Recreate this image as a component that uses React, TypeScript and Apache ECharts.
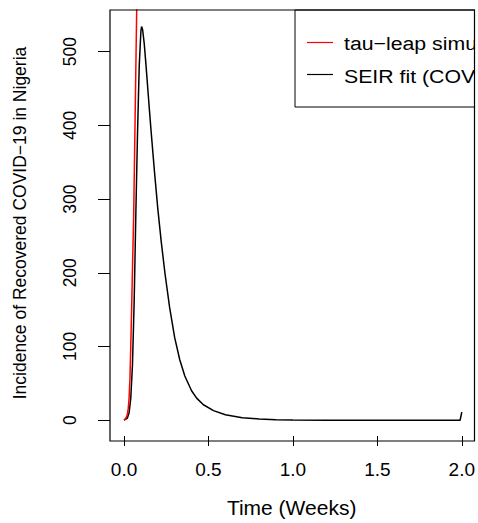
import React, { useEffect, useRef } from 'react';
import * as echarts from 'echarts';

// SEIR fit (black curve)
const seirTime = [0, 0.02, 0.03, 0.04, 0.05, 0.06, 0.07, 0.08, 0.09, 0.1, 0.104, 0.11, 0.12, 0.13, 0.14, 0.15, 0.16, 0.18, 0.2, 0.22, 0.242, 0.27, 0.3, 0.33, 0.36, 0.4, 0.43, 0.47, 0.53, 0.6, 0.7, 0.8, 0.9, 1.0, 1.2, 1.5, 1.99, 2.0];
const seirValue = [0, 3, 10, 30, 75, 160, 280, 390, 480, 528, 534, 530, 510, 482, 452, 422, 393, 338, 287, 243, 200, 153, 112, 82, 60, 40, 30, 21, 13, 7.5, 3.5, 1.7, 0.8, 0.4, 0.1, 0, 0, 11];

// tau-leap simulation (red curve)
const tauTime = [0, 0.005, 0.01, 0.015, 0.02, 0.025, 0.03, 0.035, 0.04, 0.045, 0.05, 0.057, 0.066, 0.075, 0.08];
const tauValue = [0, 1, 3, 5, 8, 16, 30, 56, 100, 150, 205, 275, 415, 556, 640];

const xTicks = [0, 0.5, 1, 1.5, 2];
const yTicks = [0, 100, 200, 300, 400, 500];
// legend texts as far as they are visible in the (cropped) reference
const legendLabels = ['tau−leap simu', 'SEIR fit (COV'];
const seriesColors = ['#ff0000', '#000000'];
const xTitle = 'Time (Weeks)';
const yTitle = 'Incidence of Recovered COVID−19 in Nigeria';

const FONT = "'Liberation Sans', Arial, Helvetica, sans-serif";

export default function App() {
  const ref = useRef<HTMLDivElement>(null);
  useEffect(() => {
    const chart = echarts.init(ref.current!, null, { renderer: 'svg' });
    const gl = 110, gt = 10, gw = 364.5, gh = 431;
    chart.setOption({
      animation: false,
      backgroundColor: '#ffffff',
      grid: { left: gl, top: gt, width: gw, height: gh, show: false },
      xAxis: {
        type: 'value',
        min: -0.083,
        max: 2.068,
        axisLine: { show: false, onZero: false },
        splitLine: { show: false },
        axisTick: { show: true, inside: false, length: 10, customValues: xTicks, lineStyle: { color: '#000', width: 1 } },
        axisLabel: {
          customValues: xTicks,
          formatter: (v: number) => v.toFixed(1),
          margin: 24,
          fontSize: 19,
          color: '#000',
          fontFamily: FONT,
        },
        name: xTitle,
        nameLocation: 'middle',
        nameGap: 61,
        nameTextStyle: { fontSize: 21, color: '#000', fontFamily: FONT },
      },
      yAxis: {
        type: 'value',
        min: -21.4,
        max: 556.4,
        axisLine: { show: false, onZero: false },
        splitLine: { show: false },
        axisTick: { show: true, inside: false, length: 12, customValues: yTicks, lineStyle: { color: '#000', width: 1 } },
        axisLabel: {
          customValues: yTicks,
          rotate: 90,
          margin: 31,
          fontSize: 17.5,
          color: '#000',
          fontFamily: FONT,
        },
        name: yTitle,
        nameLocation: 'middle',
        nameRotate: 90,
        nameGap: 81,
        nameTextStyle: { fontSize: 17.5, color: '#000', fontFamily: FONT },
      },
      series: [
        {
          name: 'SEIR fit',
          type: 'line',
          showSymbol: false,
          clip: true,
          z: 2,
          data: seirTime.map((t, i) => [t, seirValue[i]]),
          lineStyle: { color: seriesColors[1], width: 1.5 },
        },
        {
          name: 'tau-leap',
          type: 'line',
          showSymbol: false,
          clip: true,
          z: 3,
          data: tauTime.map((t, i) => [t, tauValue[i]]),
          lineStyle: { color: seriesColors[0], width: 1.5 },
        },
      ],
      graphic: [
        { type: 'rect', z: 100, shape: { x: 295, y: gt, width: 200, height: 97 }, style: { fill: '#fff', stroke: '#000', lineWidth: 1 } },
        { type: 'line', z: 101, shape: { x1: 307, y1: 42.5, x2: 333, y2: 42.5 }, style: { stroke: seriesColors[0], lineWidth: 1.2 } },
        { type: 'text', z: 101, x: 344, y: 43.5, scaleX: 1.12, style: { text: legendLabels[0], fontSize: 19, fontFamily: FONT, fill: '#000', verticalAlign: 'middle', align: 'left' } },
        { type: 'line', z: 101, shape: { x1: 307, y1: 74.5, x2: 333, y2: 74.5 }, style: { stroke: seriesColors[1], lineWidth: 1.2 } },
        { type: 'text', z: 101, x: 344, y: 76, scaleX: 1.12, style: { text: legendLabels[1], fontSize: 19, fontFamily: FONT, fill: '#000', verticalAlign: 'middle', align: 'left' } },
        { type: 'rect', z: 102, shape: { x: gl + gw + 0.5, y: 0, width: 20, height: 523 }, style: { fill: '#fff' } },
        { type: 'rect', z: 103, shape: { x: gl, y: gt, width: gw, height: gh }, style: { fill: 'none', stroke: '#000', lineWidth: 1.2 } },
      ],
    });
    return () => chart.dispose();
  }, []);
  return <div ref={ref} style={{ position: 'absolute', left: 0, top: 0, width: 478, height: 523 }} />;
}
